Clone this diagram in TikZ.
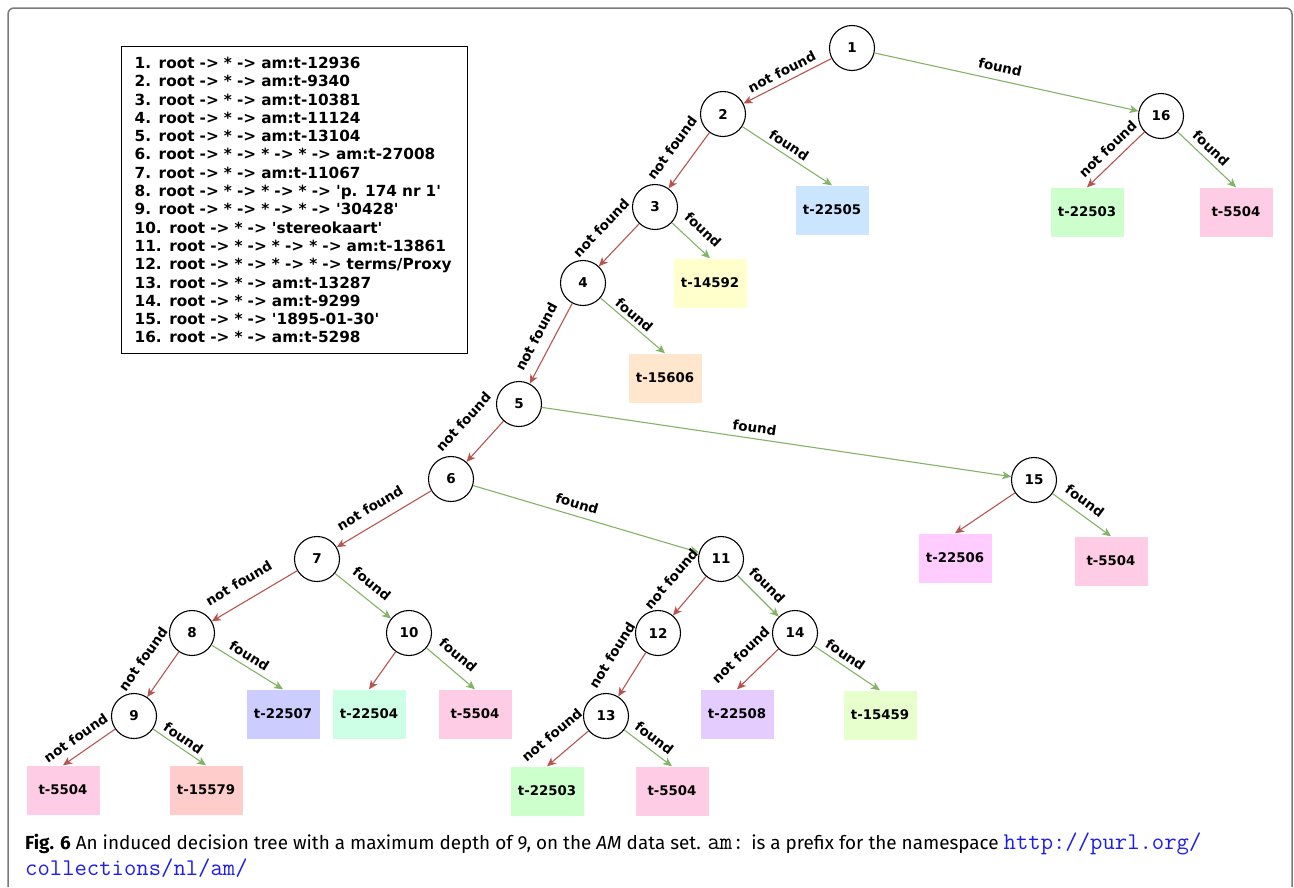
\documentclass[tikz,border=0pt]{standalone}
\usepackage{fontspec}
\setmainfont{DejaVu Sans}
\newfontfamily\capsans{Fira Sans}
\usetikzlibrary{arrows.meta}

\definecolor{nfred}{HTML}{B85450}
\definecolor{fgreen}{HTML}{82B366}
\definecolor{framegray}{HTML}{7A7A7A}
\definecolor{urlblue}{RGB}{30,30,235}
\definecolor{cblue}{HTML}{CCE5FF}
\definecolor{cyellow}{HTML}{FFFFCC}
\definecolor{cpeach}{HTML}{FFE6CC}
\definecolor{cgreen}{HTML}{CCFFCC}
\definecolor{cpink}{HTML}{FFCCE6}
\definecolor{cmagenta}{HTML}{FFCCFF}
\definecolor{clavender}{HTML}{CCCCFF}
\definecolor{cmint}{HTML}{CCFFE6}
\definecolor{cpurple}{HTML}{E5CCFF}
\definecolor{clime}{HTML}{E6FFCC}
\definecolor{csalmon}{HTML}{FFCCCC}

\newcommand{\sq}{\textquotesingle}

\tikzset{
  dec/.style={circle, draw=black, line width=1.1pt, fill=white,
    minimum size=45pt, inner sep=0pt, font=\fontsize{13.5}{15}\selectfont\bfseries},
  leaf/.style={rectangle, minimum width=73pt, minimum height=49pt,
    inner sep=0pt, font=\fontsize{13.3}{15}\selectfont\bfseries},
  tipstyle/.style={-{Stealth[length=9pt,width=8pt,inset=2.5pt]}},
  nf/.style={draw=nfred, line width=1.1pt, tipstyle},
  fd/.style={draw=fgreen, line width=1.1pt, tipstyle},
  % label on a branch: position along it and gap from it
  lbl/.style n args={2}{pos=#1, sloped, above, inner sep=1pt, outer sep=0pt,
    outer ysep=#2pt, font=\fontsize{13.5}{15}\selectfont\bfseries, text=black},
}

\begin{document}
\begin{tikzpicture}[x=1pt, y=-1pt]
\useasboundingbox (0,0) rectangle (1294,887);

% outer figure frame (open at the bottom)
\draw[framegray, line width=1.5pt, rounded corners=6pt]
  (8,887) -- (8,8) -- (1292,8) -- (1292,887);

% legend of the split conditions
\node[draw=black, line width=1.2pt, anchor=north west, minimum height=307pt,
  text width=320pt, inner xsep=13pt, align=left,
  font=\fontsize{15.3}{18.3}\selectfont\bfseries] (legend) at (121,46) {%
1. root -> * -> am:t-12936\\
2. root -> * -> am:t-9340\\
3. root -> * -> am:t-10381\\
4. root -> * -> am:t-11124\\
5. root -> * -> am:t-13104\\
6. root -> * -> * -> * -> am:t-27008\\
7. root -> * -> am:t-11067\\
8. root -> * -> * -> * -> \sq p. 174 nr 1\sq\\
9. root -> * -> * -> * -> \sq 30428\sq\\
10. root -> * -> \sq stereokaart\sq\\
11. root -> * -> * -> * -> am:t-13861\\
12. root -> * -> * -> * -> terms/Proxy\\
13. root -> * -> am:t-13287\\
14. root -> * -> am:t-9299\\
15. root -> * -> \sq 1895-01-30\sq\\
16. root -> * -> am:t-5298};

% decision nodes
\node[dec] (n1)  at (852,48)  {1};
\node[dec] (n2)  at (723,114) {2};
\node[dec] (n3)  at (655,207) {3};
\node[dec] (n4)  at (583,283) {4};
\node[dec] (n5)  at (519,404) {5};
\node[dec] (n6)  at (451,479) {6};
\node[dec] (n7)  at (317,559) {7};
\node[dec] (n8)  at (192,633) {8};
\node[dec] (n9)  at (134,716) {9};
\node[dec] (n10) at (409,633) {10};
\node[dec] (n11) at (721,559) {11};
\node[dec] (n12) at (658,633) {12};
\node[dec] (n13) at (606,716) {13};
\node[dec] (n14) at (795,633) {14};
\node[dec] (n15) at (1034,480) {15};
\node[dec] (n16) at (1161,116) {16};

% leaves
\node[leaf, fill=cblue]     (la) at (832,210)  {t-22505};
\node[leaf, fill=cyellow]   (lb) at (710,283)  {t-14592};
\node[leaf, fill=cpeach]    (lc) at (665,378)  {t-15606};
\node[leaf, fill=cgreen]    (ld) at (1087,212) {t-22503};
\node[leaf, fill=cpink]     (le) at (1236,212) {t-5504};
\node[leaf, fill=cmagenta]  (lf) at (955,558)  {t-22506};
\node[leaf, fill=cpink]     (lg) at (1111,561) {t-5504};
\node[leaf, fill=clavender] (lh) at (283,714)  {t-22507};
\node[leaf, fill=cmint]     (li) at (369,714)  {t-22504};
\node[leaf, fill=cpink]     (lj) at (475,714)  {t-5504};
\node[leaf, fill=cpurple]   (lk) at (737,714)  {t-22508};
\node[leaf, fill=clime]     (ll) at (880,715)  {t-15459};
\node[leaf, fill=cpink]     (lm) at (63,790)   {t-5504};
\node[leaf, fill=csalmon]   (ln) at (206,790)  {t-15579};
\node[leaf, fill=cgreen]    (lo) at (547,791)  {t-22503};
\node[leaf, fill=cpink]     (lp) at (672,791)  {t-5504};

% branches
\draw[nf] (n1) -- (n2) node[lbl={0.51}{4.5}] {not found};
\draw[fd] (n1) -- (n16) node[lbl={0.465}{7}] {found};
\draw[nf] (n2) -- (n3) node[lbl={0.5}{15}] {not found};
\draw[fd] (n2) -- (la.north) node[lbl={0.46}{4}] {found};
\draw[nf] (n3) -- (n4) node[lbl={0.5}{18.5}] {not found};
\draw[fd] (n3) -- (lb.north) node[lbl={0.53}{10}] {found};
\draw[nf] (n4) -- (n5) node[lbl={0.51}{10}] {not found};
\draw[fd] (n4) -- (lc.north) node[lbl={0.43}{3}] {found};
\draw[nf] (n5) -- (n6) node[lbl={0.5}{23}] {not found};
\draw[fd] (n5) -- (n15) node[lbl={0.45}{5}] {found};
\draw[nf] (n6) -- (n7) node[lbl={0.56}{10.5}] {not found};
\draw[fd] (n6) -- (n11) node[lbl={0.445}{6}] {found};
\draw[nf] (n7) -- (n8) node[lbl={0.57}{13}] {not found};
\draw[fd] (n7) -- (n10) node[lbl={0.49}{9}] {found};
\draw[nf] (n8) -- (n9) node[lbl={0.48}{19}] {not found};
\draw[fd] (n8) -- (lh.north) node[lbl={0.45}{4.5}] {found};
\draw[nf] (n9) -- (lm.north) node[lbl={0.59}{9}] {not found};
\draw[fd] (n9) -- (ln.north) node[lbl={0.47}{3.5}] {found};
\draw[nf] (n10) -- (li.north);
\draw[fd] (n10) -- (lj.north) node[lbl={0.45}{9}] {found};
\draw[nf] (n11) -- (n12) node[lbl={0.48}{19}] {not found};
\draw[fd] (n11) -- (n14) node[lbl={0.48}{8}] {found};
\draw[nf] (n12) -- (n13) node[lbl={0.39}{21}] {not found};
\draw[nf] (n13) -- (lo.north) node[lbl={0.56}{14.5}] {not found};
\draw[fd] (n13) -- (lp.north) node[lbl={0.48}{5.5}] {found};
\draw[nf] (n14) -- (lk.north) node[lbl={0.54}{16}] {not found};
\draw[fd] (n14) -- (ll.north) node[lbl={0.39}{4}] {found};
\draw[nf] (n15) -- (lf.north);
\draw[fd] (n15) -- (lg.north) node[lbl={0.42}{7}] {found};
\draw[nf] (n16) -- (ld.north) node[lbl={0.48}{7}] {not found};
\draw[fd] (n16) -- (le.north) node[lbl={0.44}{5}] {found};

% caption
\node[anchor=base west, inner sep=0pt, font=\capsans\fontsize{18.9}{24}\selectfont] (cap1) at (25,849)
  {{\bfseries Fig. 6} An induced decision tree with a maximum depth of 9, on the {\itshape AM} data set.
   {\ttfamily\fontsize{24}{24}\selectfont am:} is a prefix for the namespace
   {\ttfamily\fontsize{24}{24}\selectfont\color{urlblue}http://purl.org/}};
\node[anchor=base west, inner sep=0pt, font=\ttfamily\fontsize{24}{24}\selectfont, text=urlblue] (cap2) at (25,875)
  {collections/nl/am/};
\end{tikzpicture}
\end{document}
